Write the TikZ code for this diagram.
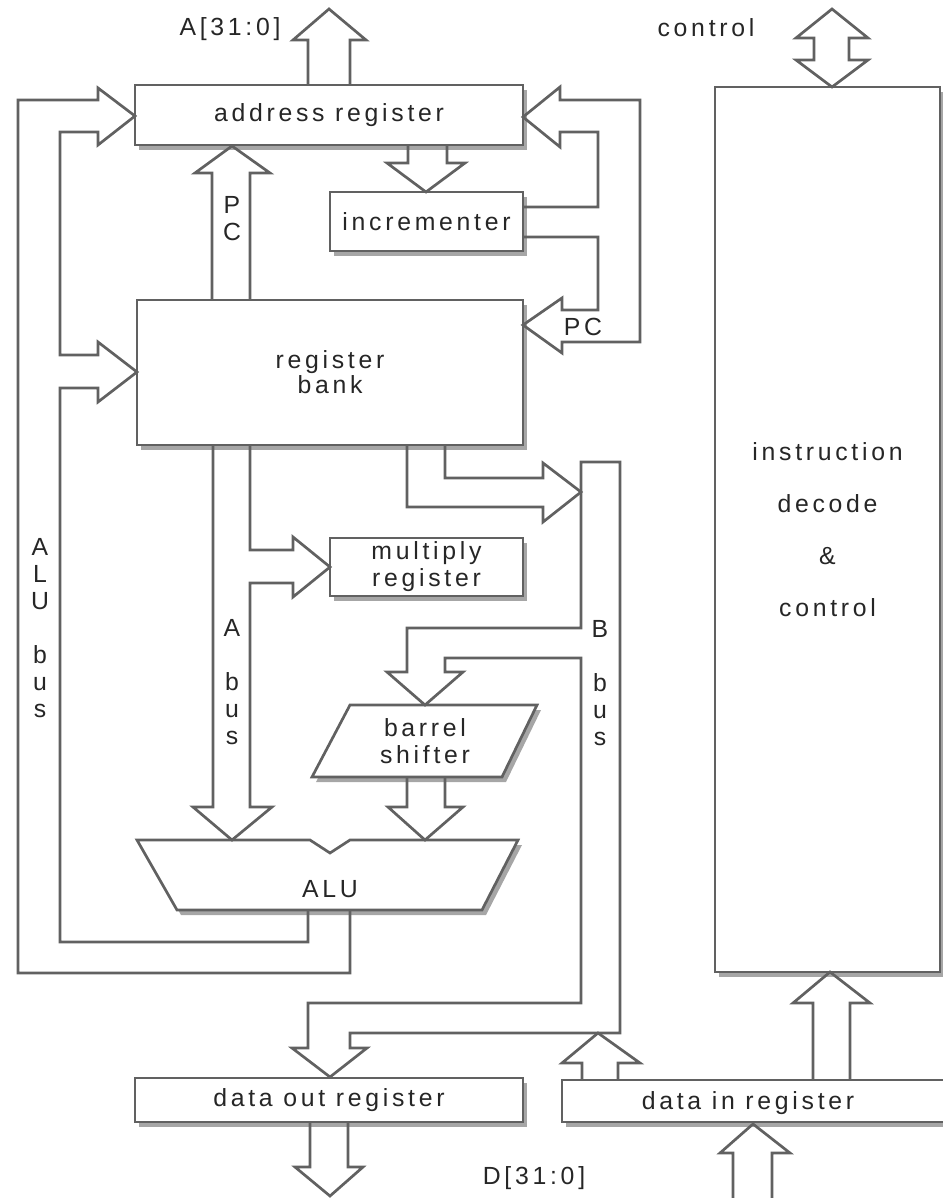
\documentclass[tikz,border=0pt]{standalone}
\usepackage{fontspec}
\newfontfamily\lblfont[LetterSpace=15]{Liberation Sans}
\usepackage{tikz}
\usetikzlibrary{shadows}

\begin{document}
\begin{tikzpicture}[x=0.5pt,y=-0.5pt,
    bus/.style={draw=black!62,line width=1.35pt},
    box/.style={draw=black!62,line width=1.35pt,fill=white,
        drop shadow={shadow xshift=2pt,shadow yshift=-2.5pt,fill=black!50,opacity=.7}},
    lbl/.style={font=\lblfont\fontsize{12.4}{13.5}\selectfont,text=black!85,inner sep=0pt,align=center}]
\useasboundingbox (0,0) rectangle (942,1198);
            % boxes
            \node[box,lbl,minimum width=194pt,minimum height=30pt] (areg) at (329,115) {address register};
            \node[box,lbl,minimum width=96.5pt,minimum height=29.5pt] (incr) at (426.5,221.5) {incrementer};
            \node[box,lbl,minimum width=193pt,minimum height=72.5pt] (rbank) at (330,372.5) {register\\[-1pt]bank};
            \node[box,lbl,minimum width=96.5pt,minimum height=29pt] (mreg) at (426.5,567) {multiply\\register};
            \node[box,lbl,minimum width=194pt,minimum height=22pt] (dout) at (329,1100) {data out register};
            \node[box,minimum width=194pt,minimum height=21pt] (din) at (756,1101) {};
            \node[lbl] (dinlbl) at (748,1103) {data in register};
            \node[box,lbl,minimum width=112.5pt,minimum height=442.5pt] (idc) at (827.5,529.5)
                {instruction\\[12.5pt]decode\\[12.5pt]\&\\[12.5pt]control};
            \draw[box] (350,705) -- (537,705) -- (502,777) -- (312,777) -- cycle;
            \node[lbl] (bsh) at (425,741) {barrel\\shifter};
            \draw[box] (137,840) -- (310,840) -- (330,853) -- (350,840) -- (518,840) -- (482,910) -- (177,910) -- cycle;
            \node[lbl] (alu) at (330,889) {ALU};
            % outside signals
            \draw[bus] (308,85) -- (308,40) -- (293,40) -- (329,9) -- (366,40) -- (350,40) -- (350,85);
            \draw[bus] (832,9) -- (868,38) -- (849,38) -- (849,60) -- (868,60) -- (832,87)
                -- (796,60) -- (814,60) -- (814,38) -- (796,38) -- cycle;
            \draw[bus] (733,1200) -- (733,1153) -- (720,1153) -- (753,1124) -- (790,1153) -- (772,1153) -- (772,1200);
            \draw[bus] (310,1122) -- (310,1167) -- (295,1167) -- (330,1196) -- (363,1167) -- (348,1167) -- (348,1122);
            \node[lbl] (abus) at (230,29) {A[31:0]};
            \node[lbl] (ctrl) at (706,28) {control};
            \node[lbl] (dbus) at (534,1178) {D[31:0]};
            % address side
            \draw[bus] (212,300) -- (212,173) -- (195,173) -- (232,146) -- (270,173) -- (250,173) -- (250,300);
            \node[lbl] (pcup) at (232,219) {P\\C};
            \draw[bus] (408,145) -- (408,163) -- (387,163) -- (426,192) -- (465,163) -- (447,163) -- (447,145);
            \draw[bus] (523,207) -- (598,207) -- (598,132) -- (560,132) -- (560,147) -- (523,117) -- (560,87)
                -- (560,100) -- (640,100) -- (640,342) -- (562,342) -- (562,353) -- (523,325) -- (562,298)
                -- (562,310) -- (598,310) -- (598,237) -- (523,237);
            \node[lbl] (pcin) at (583,327) {PC};
            % ALU bus
            \draw[bus] (350,910) -- (350,973) -- (18,973) -- (18,100) -- (98,100) -- (98,88) -- (135,116)
                -- (98,145) -- (98,132) -- (60,132) -- (60,355) -- (98,355) -- (98,342) -- (137,372)
                -- (98,402) -- (98,388) -- (60,388) -- (60,942) -- (308,942) -- (308,910);
            \node[lbl] (alubus) at (40,628) {A\\L\\U\\~\\b\\u\\s};
            % A bus
            \draw[bus] (213,445) -- (213,807) -- (193,807) -- (232,840) -- (272,807) -- (250,807) -- (250,583)
                -- (293,583) -- (293,597) -- (330,567) -- (293,537) -- (293,550) -- (250,550) -- (250,445);
            \node[lbl] (abuslbl) at (232,682) {A\\~\\b\\u\\s};
            % B bus
            \draw[bus] (445,445) -- (445,478) -- (543,478) -- (543,463) -- (581,492) -- (543,522) -- (543,507)
                -- (407,507) -- (407,445);
            \draw[bus] (581,628) -- (581,462) -- (620,462) -- (620,1033) -- (350,1033) -- (350,1048) -- (367,1048)
                -- (330,1077) -- (292,1048) -- (308,1048) -- (308,1003) -- (581,1003) -- (581,658) -- (445,658)
                -- (445,672) -- (463,672) -- (425,705) -- (387,672) -- (407,672) -- (407,628) -- cycle;
            \node[lbl] (bbuslbl) at (600,683) {B\\~\\b\\u\\s};
            \draw[bus] (407,777) -- (407,807) -- (388,807) -- (425,840) -- (463,807) -- (445,807) -- (445,777);
            \draw[bus] (582,1080) -- (582,1063) -- (562,1063) -- (598,1033) -- (640,1063) -- (618,1063) -- (618,1080);
            \draw[bus] (813,1080) -- (813,1003) -- (793,1003) -- (830,972) -- (870,1003) -- (850,1003) -- (850,1080);
\end{tikzpicture}
\end{document}
